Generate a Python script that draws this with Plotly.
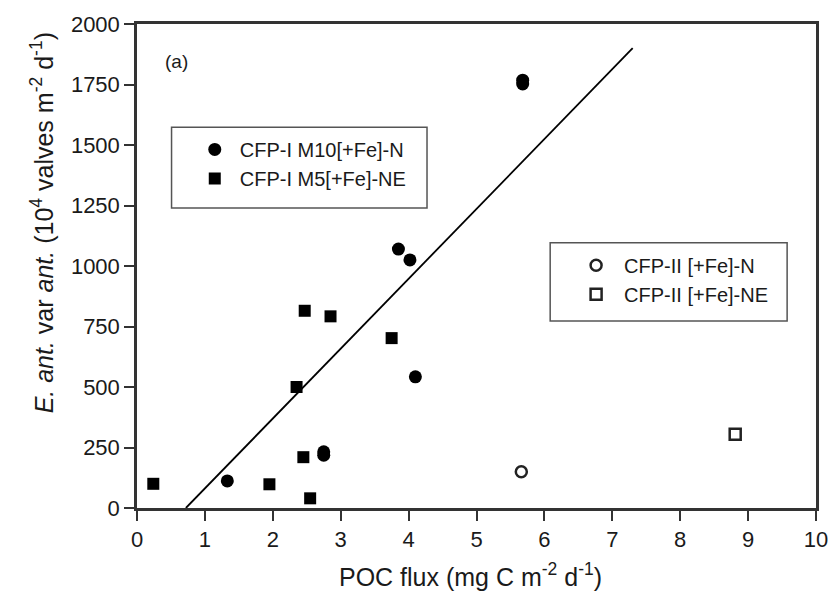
import plotly.graph_objects as go

# ---------------- data ----------------
# CFP-I M10[+Fe]-N  (filled circles)
m10_x = [1.33, 2.75, 2.75, 3.85, 4.02, 4.10, 5.68, 5.68]
m10_y = [112, 218, 232, 1070, 1025, 542, 1752, 1768]
# CFP-I M5[+Fe]-NE  (filled squares)
m5_x = [0.24, 1.95, 2.35, 2.45, 2.47, 2.55, 2.85, 3.75]
m5_y = [100, 98, 500, 210, 815, 40, 792, 702]
# CFP-II [+Fe]-N  (open circle)
iin_x = [5.66]
iin_y = [150]
# CFP-II [+Fe]-NE  (open square)
iine_x = [8.81]
iine_y = [305]
# regression line end points
fit_x = [0.72, 7.30]
fit_y = [0, 1900]

x_ticks = list(range(0, 11))
y_ticks = list(range(0, 2001, 250))

names = ["CFP-I M10[+Fe]-N", "CFP-I M5[+Fe]-NE", "CFP-II [+Fe]-N", "CFP-II [+Fe]-NE"]

FONT = "Arial, Liberation Sans, sans-serif"
INK = "#1a1a1a"
AX = "#333333"

fig = go.Figure()
fig.add_trace(go.Scatter(x=fit_x, y=fit_y, mode="lines",
                         line=dict(color="black", width=1.8), showlegend=False,
                         hoverinfo="skip"))
fig.add_trace(go.Scatter(x=m10_x, y=m10_y, mode="markers", name=names[0],
                         marker=dict(symbol="circle", size=13, color="black",
                                     line=dict(width=0)), legend="legend"))
fig.add_trace(go.Scatter(x=m5_x, y=m5_y, mode="markers", name=names[1],
                         marker=dict(symbol="square", size=12, color="black",
                                     line=dict(width=0)), legend="legend"))
fig.add_trace(go.Scatter(x=iin_x, y=iin_y, mode="markers", name=names[2],
                         marker=dict(symbol="circle-open", size=11, color="#222",
                                     line=dict(width=2.5)), legend="legend2"))
fig.add_trace(go.Scatter(x=iine_x, y=iine_y, mode="markers", name=names[3],
                         marker=dict(symbol="square-open", size=11, color="#222",
                                     line=dict(width=2.5)), legend="legend2"))

W, H = 840, 600
L, R, T, B = 137, 21, 19, 92
pw, ph = W - L - R, H - T - B


def px(xp):
    return (xp - L) / pw


def py(yp):
    return (H - B - yp) / ph


axis_common = dict(showline=True, linewidth=2.5, linecolor=AX, mirror=True,
                   ticks="outside", ticklen=10, tickwidth=2, tickcolor=AX,
                   showgrid=False, zeroline=False,
                   tickfont=dict(family=FONT, size=22, color=INK))

fig.update_layout(
    width=W, height=H,
    margin=dict(l=L, r=R, t=T, b=B),
    paper_bgcolor="white", plot_bgcolor="white",
    font=dict(family=FONT, color=INK),
    xaxis=dict(range=[0, 10], tickvals=x_ticks, **axis_common),
    yaxis=dict(range=[0, 2000], tickvals=y_ticks, **axis_common),
    legend=dict(x=px(190), y=py(126), xanchor="left", yanchor="top",
                bgcolor="rgba(0,0,0,0)", borderwidth=0, itemwidth=40,
                font=dict(family=FONT, size=20, color=INK), tracegroupgap=0),
    legend2=dict(x=px(570), y=py(243), xanchor="left", yanchor="top",
                 bgcolor="rgba(0,0,0,0)", borderwidth=0, itemwidth=46,
                 font=dict(family=FONT, size=20, color=INK), tracegroupgap=0),
    shapes=[
        dict(type="rect", xref="paper", yref="paper",
             x0=px(171.7), x1=px(428.3), y0=py(205), y1=py(123.3),
             line=dict(color="#555", width=1.5)),
        dict(type="rect", xref="paper", yref="paper",
             x0=px(552), x1=px(790), y0=py(319), y1=py(240),
             line=dict(color="#555", width=1.5)),
    ],
    annotations=[
        dict(text="(a)", xref="paper", yref="paper", x=px(177), y=py(57),
             xanchor="center", yanchor="middle",
             showarrow=False, font=dict(family=FONT, size=19, color=INK)),
        dict(text="POC flux (mg C m<sup>-2</sup> d<sup>-1</sup>)", xref="paper",
             yref="paper", x=px(472), y=py(576), xanchor="center", yanchor="middle",
             showarrow=False, font=dict(family=FONT, size=25, color=INK)),
        dict(text="<i>E. ant.</i> var <i>ant.</i> (10<sup>4</sup> valves m<sup>-2</sup> d<sup>-1</sup>)",
             xref="paper", yref="paper", x=px(42), y=py(220), textangle=-90,
             xanchor="center", yanchor="middle",
             showarrow=False, font=dict(family=FONT, size=25, color=INK)),
    ],
)

fig.write_html("out.html")
